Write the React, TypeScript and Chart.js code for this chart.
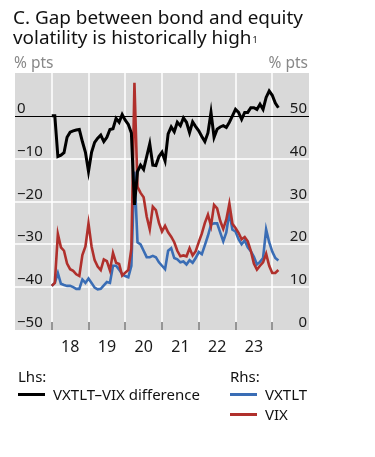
import React, { useEffect, useRef } from "react";
import { Chart, registerables } from "chart.js";

Chart.register(...registerables);

// Monthly observations, Jan 2018 onwards
const startYear = 2018;

const diffVxtltVix = [
  0, 0, -9.5, -9.2, -8.6, -5.0, -3.8, -3.5, -3.3, -3.2,
  -6.0, -8.5, -13.0, -8.5, -6.2, -5.2, -4.5, -6.0, -5.0, -3.2,
  -3.0, -0.6, -1.5, 0.3, -1.0, -2.0, -4.0, -20.8, -13.0, -11.5,
  -12.5, -9.5, -6.5, -11.5, -11.6, -9.5, -8.5, -10.5, -4.2, -2.6,
  -3.7, -1.5, -2.3, -0.5, -1.5, -3.9, -1.4, -2.5, -3.5, -4.8,
  -6.0, -4.0, 0.8, -5.0, -3.1, -2.6, -2.3, -2.7, -1.5, 0.0,
  1.5, 0.8, -0.8, 0.8, 0.8, 1.9, 1.9, 1.5, 2.7, 1.5,
  4.3, 5.8, 4.8, 3.0, 1.9,
];

const vxtlt = [
  10.3, 11.0, 13.3, 10.8, 10.5, 10.3, 10.3, 10.0, 9.6, 9.6,
  11.8, 11.0, 12.0, 11.0, 9.9, 9.5, 9.6, 10.4, 11.2, 11.0,
  15.0, 15.0, 14.1, 13.0, 12.6, 12.3, 15.0, 37.0, 20.5, 20.0,
  18.5, 17.0, 17.0, 17.3, 17.0, 15.8, 15.0, 14.2, 18.5, 19.1,
  16.8, 16.5, 15.8, 16.0, 15.3, 16.3, 15.7, 16.8, 18.2, 17.7,
  19.8, 22.0, 24.6, 24.9, 24.9, 22.8, 20.7, 22.8, 27.5, 23.4,
  23.0, 21.2, 20.0, 20.9, 19.3, 18.4, 17.1, 15.3, 15.9, 16.8,
  23.5, 20.5, 18.3, 16.8, 16.2,
];

const vix = [
  10.3, 11.0, 22.4, 19.3, 18.5, 15.5, 14.2, 13.8, 13.0, 12.6,
  17.5, 19.5, 24.9, 19.5, 16.3, 14.8, 14.0, 16.5, 16.1, 13.9,
  18.0, 15.7, 15.4, 12.7, 13.4, 14.0, 19.0, 57.7, 33.4, 32.0,
  31.0, 26.5, 23.5, 28.8, 28.0, 25.0, 23.0, 24.3, 22.8, 21.8,
  20.5, 18.5, 17.2, 17.4, 17.2, 19.1, 17.4, 18.4, 20.5, 22.5,
  25.0, 26.9, 24.3, 29.2, 28.4, 25.5, 23.6, 25.8, 29.5, 24.8,
  23.8, 22.7, 21.2, 21.7, 20.7, 18.5, 15.5, 14.1, 15.0, 15.8,
  17.8, 15.0, 13.3, 13.3, 14.0,
];

const yearLines = [2018, 2019, 2020, 2021, 2022, 2023, 2024];
const xLabels = ["18", "19", "20", "21", "22", "23"];
const leftTicks = [0, -10, -20, -30, -40, -50];
const rightTicks = [50, 40, 30, 20, 10, 0];

const FONT = "'Noto Sans', 'Open Sans', sans-serif";
const BLUE = "#3a6db5";
const RED = "#b0302c";

const fmt = (v: number) => (v < 0 ? "\u2212" + Math.abs(v) : String(v));

const decorPlugin = {
  id: "decor",
  beforeDatasetsDraw(chart: any) {
    const { ctx, chartArea: a, scales } = chart;
    const x = scales.x;
    const yl = scales.yL;
    ctx.save();
    ctx.fillStyle = "#d9d9d9";
    ctx.fillRect(a.left, a.top, a.right - a.left, a.bottom - a.top);
    ctx.strokeStyle = "#ffffff";
    ctx.lineWidth = 1.5;
    yearLines.forEach((yr) => {
      const px = Math.round(x.getPixelForValue(yr));
      ctx.beginPath();
      ctx.moveTo(px, a.top);
      ctx.lineTo(px, a.bottom);
      ctx.stroke();
    });
    leftTicks.forEach((t) => {
      if (t === 0 || t === -50) return;
      const py = Math.round(yl.getPixelForValue(t));
      ctx.beginPath();
      ctx.moveTo(a.left, py);
      ctx.lineTo(a.right, py);
      ctx.stroke();
    });
    // zero line
    const z = Math.round(yl.getPixelForValue(0)) + 0.5;
    ctx.strokeStyle = "#000000";
    ctx.lineWidth = 1;
    ctx.beginPath();
    ctx.moveTo(a.left, z);
    ctx.lineTo(a.right, z);
    ctx.stroke();
    // bottom tick marks
    ctx.strokeStyle = "#555555";
    ctx.lineWidth = 1.2;
    yearLines.forEach((yr) => {
      const px = Math.round(x.getPixelForValue(yr));
      ctx.beginPath();
      ctx.moveTo(px, a.bottom - 8);
      ctx.lineTo(px, a.bottom);
      ctx.stroke();
    });
    // tick labels
    ctx.font = `15px ${FONT}`;
    ctx.fillStyle = "#1a1a1a";
    ctx.textBaseline = "alphabetic";
    ctx.textAlign = "left";
    leftTicks.forEach((t) => {
      const py = yl.getPixelForValue(t);
      ctx.fillText(fmt(t), a.left + 2, py - 3);
    });
    const yr = scales.yR;
    ctx.textAlign = "right";
    rightTicks.forEach((t) => {
      const py = yr.getPixelForValue(t);
      ctx.fillText(fmt(t), a.right - 2, py - 3);
    });
    ctx.textAlign = "center";
    ctx.font = `16px ${FONT}`;
    xLabels.forEach((lab, i) => {
      const px = x.getPixelForValue(yearLines[i] + 0.5);
      ctx.fillText(lab, px, a.bottom + 22);
    });
    ctx.restore();
  },
};

export default function App() {
  const ref = useRef<HTMLCanvasElement | null>(null);

  useEffect(() => {
    document.body.style.margin = "0";
    const canvas = ref.current;
    if (!canvas) return;
    const pts = (arr: number[]) => arr.map((v, i) => ({ x: startYear + i / 12, y: v }));
    const chart = new Chart(canvas, {
      type: "line",
      data: {
        datasets: [
          {
            label: "VXTLT\u2013VIX difference",
            data: pts(diffVxtltVix),
            yAxisID: "yL",
            borderColor: "#000000",
            borderWidth: 3,
            pointRadius: 0,
            tension: 0,
            order: 0,
          },
          {
            label: "VIX",
            data: pts(vix),
            yAxisID: "yR",
            borderColor: RED,
            borderWidth: 2.6,
            pointRadius: 0,
            tension: 0,
            order: 1,
          },
          {
            label: "VXTLT",
            data: pts(vxtlt),
            yAxisID: "yR",
            borderColor: BLUE,
            borderWidth: 2.6,
            pointRadius: 0,
            tension: 0,
            order: 2,
          },
        ],
      },
      options: {
        animation: false,
        responsive: false,
        maintainAspectRatio: false,
        layout: { padding: { left: 15, right: 66, top: 73, bottom: 127 } },
        plugins: { legend: { display: false }, tooltip: { enabled: false }, title: { display: false } },
        scales: {
          x: { type: "linear", min: 2017, max: 2025, display: false },
          yL: { type: "linear", position: "left", min: -50, max: 10, display: false },
          yR: { type: "linear", position: "right", min: 0, max: 60, display: false },
        },
      },
      plugins: [decorPlugin],
    });
    return () => chart.destroy();
  }, []);

  const text: React.CSSProperties = { position: "absolute", fontFamily: FONT, whiteSpace: "nowrap" };
  const sw = (color: string, left: number, top: number): React.CSSProperties => ({
    position: "absolute",
    left,
    top,
    width: 27,
    height: 3,
    background: color,
  });

  return (
    <div style={{ position: "relative", width: 375, height: 457, background: "#fff", overflow: "hidden" }}>
      <canvas ref={ref} width={375} height={457} style={{ position: "absolute", left: 0, top: 0, width: 375, height: 457 }} />
      <div style={{ ...text, left: 13, top: 7, fontSize: 18.9, lineHeight: "20px", color: "#111" }}>
        C. Gap between bond and equity
        <br />
        volatility is historically high<sup style={{ fontSize: 9, verticalAlign: "top", position: "relative", top: 3, marginLeft: 1 }}>1</sup>
      </div>
      <div style={{ ...text, left: 14, top: 51, fontSize: 15.5, color: "#888" }}>% pts</div>
      <div style={{ ...text, right: 67, top: 51, fontSize: 15.5, color: "#888" }}>% pts</div>

      <div style={{ ...text, left: 18, top: 366, fontSize: 15, color: "#111" }}>Lhs:</div>
      <div style={sw("#000", 18, 393)} />
      <div style={{ ...text, left: 53, top: 384, fontSize: 15, color: "#111" }}>VXTLT{"\u2013"}VIX difference</div>

      <div style={{ ...text, left: 230, top: 366, fontSize: 15, color: "#111" }}>Rhs:</div>
      <div style={sw(BLUE, 230, 393)} />
      <div style={{ ...text, left: 265, top: 384, fontSize: 15, color: "#111" }}>VXTLT</div>
      <div style={sw(RED, 230, 413)} />
      <div style={{ ...text, left: 265, top: 404, fontSize: 15, color: "#111" }}>VIX</div>
    </div>
  );
}
